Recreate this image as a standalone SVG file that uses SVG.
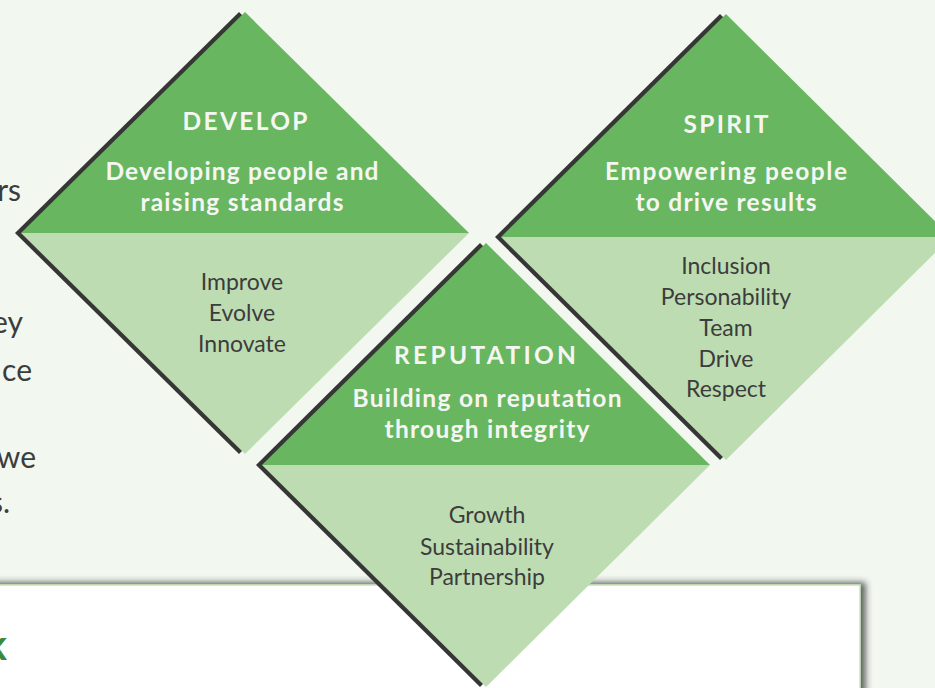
<svg xmlns="http://www.w3.org/2000/svg" width="935" height="688" viewBox="0 0 935 688">
  <style>
    .bg { fill: #f2f7f0; }
    .dark { fill: #68b65f; }
    .light { fill: #bddcb2; }
    .edge { fill: #363636; }
    .title { font-family: Lato, "Open Sans", "DejaVu Sans", sans-serif; font-weight: bold; font-size: 24.5px; fill: #f5f6f4; text-anchor: middle; }
    .item { font-family: Lato, "Open Sans", "DejaVu Sans", sans-serif; font-size: 23px; fill: #3c3c3c; text-anchor: middle; }
    .side { font-family: Lato, "Open Sans", "DejaVu Sans", sans-serif; font-size: 30px; fill: #3c3c3c; text-anchor: end; }
    .head { font-family: Lato, "Open Sans", "DejaVu Sans", sans-serif; font-weight: bold; font-size: 42px; fill: #3b8a3c; text-anchor: end; }
  </style>
  <defs>
    <filter id="boxShadow" x="-5%" y="-20%" width="115%" height="150%">
      <feDropShadow dx="5" dy="-2" stdDeviation="3" flood-color="#333" flood-opacity="0.75"/>
    </filter>
  </defs>

  <rect class="bg" x="0" y="0" width="935" height="688"/>

  <g id="side-text">
    <text class="side" x="21" y="201">rs</text>
    <text class="side" x="23" y="333">ey</text>
    <text class="side" x="32" y="381">ce</text>
    <text class="side" x="36" y="468">we</text>
    <text class="side" x="10" y="513">s.</text>
  </g>

  <g id="develop">
    <polygon class="edge" points="239,12 463,233 239,454 15,233"/>
    <polygon class="dark" points="245,12 469,233 21,233"/>
    <polygon class="light" points="21,233 469,233 245,454"/>
    <text class="title" x="245" y="130" textLength="125" lengthAdjust="spacing">DEVELOP</text>
    <text class="title" x="242" y="180" textLength="273" lengthAdjust="spacing">Developing people and</text>
    <text class="title" x="242" y="211" textLength="203" lengthAdjust="spacing">raising standards</text>
    <text class="item" x="242" y="290">Improve</text>
    <text class="item" x="242" y="321">Evolve</text>
    <text class="item" x="242" y="352">Innovate</text>
  </g>

  <g id="spirit">
    <polygon class="edge" points="720,14 945,237 720,460 495,237"/>
    <polygon class="dark" points="726,14 951,237 501,237"/>
    <polygon class="light" points="501,237 951,237 726,460"/>
    <text class="title" x="726" y="133" textLength="85" lengthAdjust="spacing">SPIRIT</text>
    <text class="title" x="726" y="180" textLength="242" lengthAdjust="spacing">Empowering people</text>
    <text class="title" x="726" y="211" textLength="181" lengthAdjust="spacing">to drive results</text>
    <text class="item" x="726" y="274">Inclusion</text>
    <text class="item" x="726" y="305">Personability</text>
    <text class="item" x="726" y="336">Team</text>
    <text class="item" x="726" y="367">Drive</text>
    <text class="item" x="726" y="397">Respect</text>
  </g>

  <g id="box">
    <rect x="-20" y="585" width="880" height="130" fill="#ffffff" stroke="#c6e2bc" stroke-width="1.5" filter="url(#boxShadow)"/>
    <text class="head" x="7" y="660">k</text>
  </g>

  <g id="reputation">
    <polygon class="edge" points="480,243 704,465 480,687 256,465"/>
    <polygon class="dark" points="486,243 710,465 262,465"/>
    <polygon class="light" points="262,465 710,465 486,687"/>
    <text class="title" x="485" y="364" textLength="182" lengthAdjust="spacing">REPUTATION</text>
    <text class="title" x="487" y="407" textLength="269" lengthAdjust="spacing">Building on reputation</text>
    <text class="title" x="487" y="438" textLength="205" lengthAdjust="spacing">through integrity</text>
    <text class="item" x="487" y="523">Growth</text>
    <text class="item" x="487" y="555">Sustainability</text>
    <text class="item" x="487" y="585">Partnership</text>
  </g>

  <g id="connectors"/>
</svg>
